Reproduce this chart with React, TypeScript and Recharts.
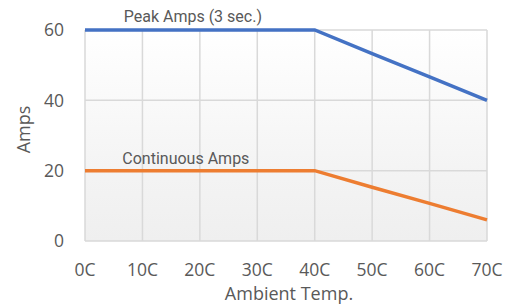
import { CartesianGrid, Label, Line, LineChart, ReferenceDot, XAxis, YAxis } from 'recharts';

const temps = ['0C', '10C', '20C', '30C', '40C', '50C', '60C', '70C'];
const peakAmps = [60, 60, 60, 60, 60, 53.3, 46.7, 40];
const continuousAmps = [20, 20, 20, 20, 20, 15.3, 10.7, 6];
const yTicks = [0, 20, 40, 60];

const notes = [
  { x: '20C', y: 60, text: 'Peak Amps (3 sec.)', dx: -7, dy: -8 },
  { x: '20C', y: 20, text: 'Continuous Amps', dx: -14, dy: -7 },
];

const data = temps.map((t, i) => ({ temp: t, peak: peakAmps[i], cont: continuousAmps[i] }));

const TICK = { fontFamily: 'Open Sans', fontSize: 17.5, fill: '#595959' };

export default function App() {
  return (
    <div style={{ position: 'absolute', left: 0, top: 0, background: '#fff' }}>
      <LineChart width={509} height={307} data={data} margin={{ top: 30, right: 22, bottom: 0, left: 0 }}>
        <defs>
          <linearGradient id="plotBg" x1="0" x2="0" y1="0" y2="1">
            <stop offset="0%" stopColor="#ffffff" />
            <stop offset="70%" stopColor="#f3f3f3" />
            <stop offset="100%" stopColor="#efefef" />
          </linearGradient>
        </defs>
        <CartesianGrid stroke="#d9d9d9" strokeWidth={1.5} fill="url(#plotBg)" fillOpacity={1} />
        <XAxis
          dataKey="temp"
          axisLine={false}
          tickLine={false}
          tickSize={0}
          tickMargin={23}
          height={66}
          interval={0}
          tick={TICK}
        >
          <Label
            content={({ viewBox }: any) => (
              <text
                x={viewBox.x + viewBox.width / 2 + 3}
                y={viewBox.y + viewBox.height - 7}
                textAnchor="middle"
                fontFamily="Open Sans"
                fontSize={18}
                fill="#595959"
              >
                Ambient Temp.
              </text>
            )}
          />
        </XAxis>
        <YAxis
          domain={[0, 60]}
          ticks={yTicks}
          axisLine={false}
          tickLine={false}
          tickSize={0}
          tickMargin={21}
          width={85}
          tick={TICK}
        >
          <Label
            content={({ viewBox }: any) => {
              const cx = 23;
              const cy = viewBox.y + viewBox.height / 2 - 6;
              return (
                <text
                  x={cx}
                  y={cy}
                  transform={`rotate(-90 ${cx} ${cy})`}
                  textAnchor="middle"
                  dominantBaseline="central"
                  fontFamily="Open Sans"
                  fontSize={18}
                  fill="#595959"
                >
                  Amps
                </text>
              );
            }}
          />
        </YAxis>
        <Line
          dataKey="peak"
          stroke="#4472C4"
          strokeWidth={3.5}
          dot={false}
          activeDot={false}
          isAnimationActive={false}
        />
        <Line
          dataKey="cont"
          stroke="#ED7D31"
          strokeWidth={3.5}
          dot={false}
          activeDot={false}
          isAnimationActive={false}
        />
        {notes.map((n) => (
          <ReferenceDot
            key={n.text}
            x={n.x}
            y={n.y}
            r={1}
            fill="none"
            stroke="none"
            label={{
              content: ({ viewBox }: any) => (
                <text
                  x={viewBox.x + viewBox.width / 2 + n.dx}
                  y={viewBox.y + viewBox.height / 2 + n.dy}
                  textAnchor="middle"
                  fontFamily="Roboto"
                  fontSize={16}
                  fill="#595959"
                >
                  {n.text}
                </text>
              ),
            }}
          />
        ))}
      </LineChart>
    </div>
  );
}
